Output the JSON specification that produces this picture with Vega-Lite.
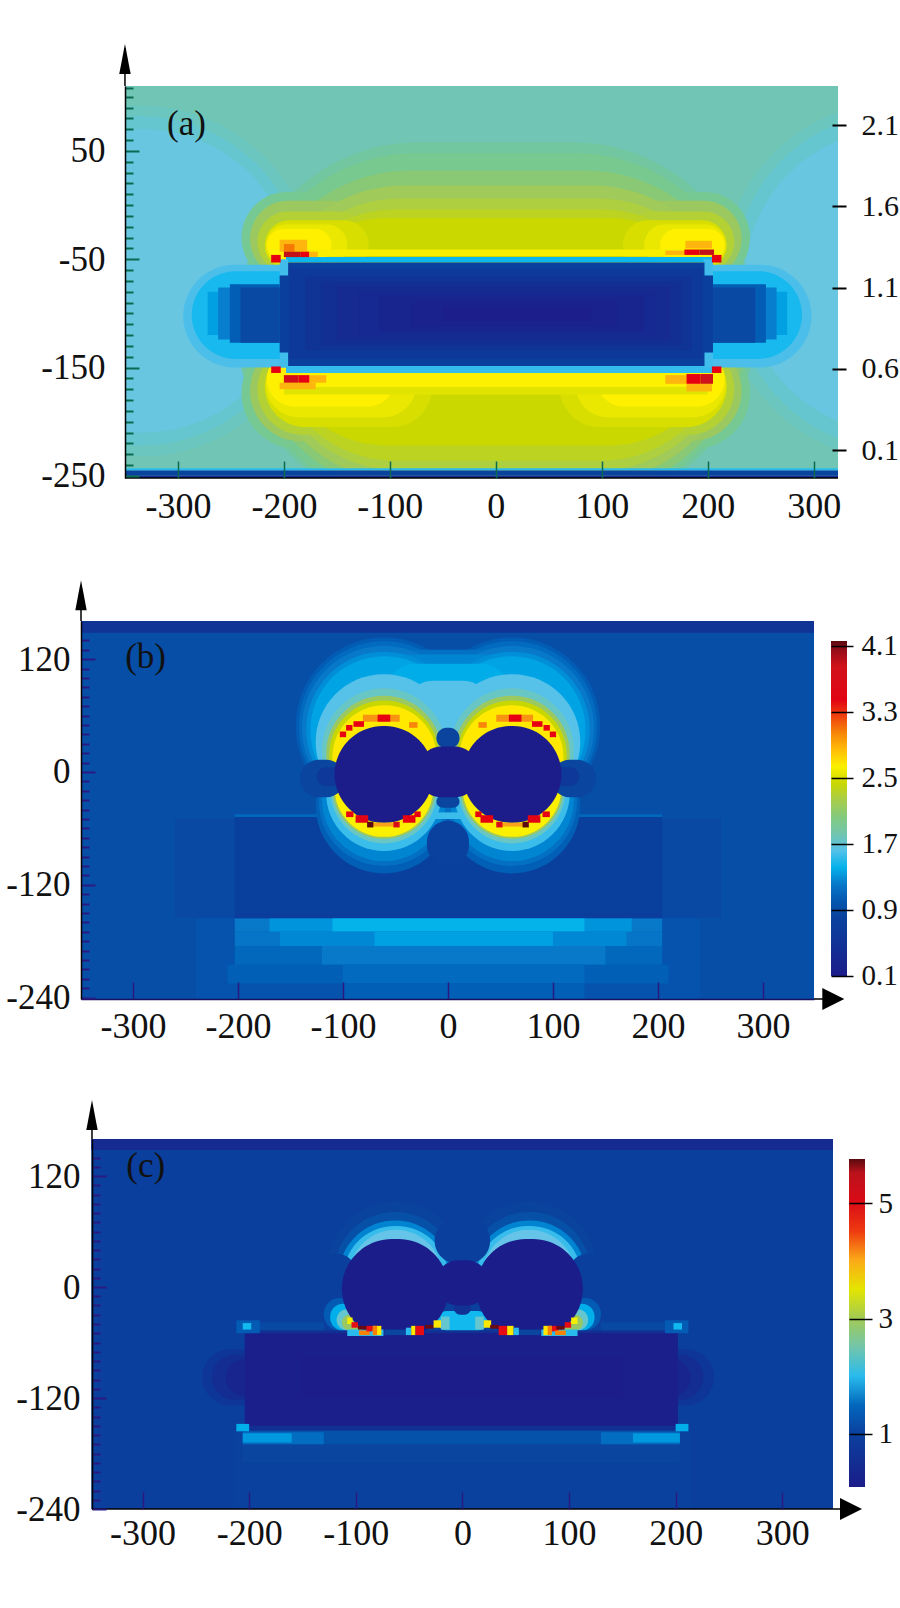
{"$schema":"https://vega.github.io/schema/vega-lite/v6.json","description":"Three field-intensity heat maps stacked vertically.","background":"white","padding":{"left":0,"top":43,"right":0,"bottom":0},"spacing":0,"align":"none","bounds":"full","resolve":{"scale":{"color":"independent"},"legend":{"color":"independent"}},"config":{"view":{"stroke":null},"axis":{"labelFont":"Liberation Serif","labelColor":"#111111","grid":false,"title":null,"labelOverlap":false,"labelFlush":false}},
"datasets":{
"a1":[{"x":-350,"X":323,"y":-252,"Y":110,"v":1.02}],
"a2":[
{"x":-505,"X":-170,"y":-232,"Y":92,"v":1.012},{"x":-497,"X":-180,"y":-222,"Y":82,"v":1.0},{"x":-490,"X":-190,"y":-210,"Y":70,"v":0.985},{"x":215,"X":540,"y":-235,"Y":95,"v":1.012},{"x":225,"X":530,"y":-225,"Y":85,"v":1.0},{"x":235,"X":520,"y":-210,"Y":70,"v":0.985},
{"x":-245,"X":245,"y":-280,"Y":58,"v":1.07},{"x":-240,"X":-120,"y":-72,"Y":12,"v":1.1},{"x":120,"X":240,"y":-72,"Y":12,"v":1.1},{"x":-240,"X":-40,"y":-225,"Y":-122,"v":1.1},{"x":40,"X":240,"y":-225,"Y":-122,"v":1.1},{"x":-240,"X":240,"y":-275,"Y":48,"v":1.11},{"x":-232,"X":236,"y":-265,"Y":32,"v":1.16},{"x":-232,"X":-120,"y":-66,"Y":4,"v":1.2},{"x":120,"X":232,"y":-66,"Y":4,"v":1.2},{"x":-232,"X":-50,"y":-218,"Y":-125,"v":1.2},{"x":50,"X":232,"y":-218,"Y":-125,"v":1.2},{"x":-225,"X":230,"y":-255,"Y":18,"v":1.22},{"x":-218,"X":224,"y":-245,"Y":6,"v":1.28},{"x":-225,"X":-120,"y":-62,"Y":-6,"v":1.3},{"x":120,"X":225,"y":-62,"Y":-6,"v":1.3},{"x":-225,"X":-55,"y":-212,"Y":-128,"v":1.3},{"x":55,"X":225,"y":-212,"Y":-128,"v":1.3},{"x":-213,"X":218,"y":-236,"Y":-4,"v":1.33},{"x":-210,"X":214,"y":-222,"Y":-12,"v":1.37},
{"x":-218,"X":-120,"y":-60,"Y":-14,"v":1.4},{"x":-217,"X":-140,"y":-56,"Y":-18,"v":1.44},{"x":-216,"X":-155,"y":-52,"Y":-22,"v":1.49},{"x":120,"X":218,"y":-60,"Y":-14,"v":1.4},{"x":140,"X":217,"y":-56,"Y":-18,"v":1.44},{"x":155,"X":216,"y":-52,"Y":-22,"v":1.49},
{"x":-218,"X":-60,"y":-205,"Y":-130,"v":1.4},{"x":-217,"X":-75,"y":-196,"Y":-135,"v":1.44},{"x":-216,"X":-95,"y":-186,"Y":-135,"v":1.49},{"x":60,"X":218,"y":-205,"Y":-130,"v":1.4},{"x":75,"X":217,"y":-196,"Y":-135,"v":1.44},{"x":95,"X":216,"y":-186,"Y":-135,"v":1.49},
{"x":-295,"X":-120,"y":-150,"Y":-55,"v":0.9},{"x":-287,"X":-130,"y":-142,"Y":-61,"v":0.83},{"x":120,"X":298,"y":-150,"Y":-55,"v":0.9},{"x":130,"X":289,"y":-142,"Y":-61,"v":0.83}],
"a3":[
{"x":-190,"X":190,"y":-47,"Y":-41,"v":1.47},{"x":-200,"X":200,"y":-175,"Y":-168,"v":1.42},{"x":-200,"X":200,"y":-168,"Y":-155,"v":1.48},
{"x":-272,"X":-204,"y":-120,"Y":-80,"v":0.78},{"x":-262,"X":-204,"y":-124,"Y":-76,"v":0.72},{"x":-251,"X":-204,"y":-127,"Y":-73,"v":0.62},{"x":-241,"X":-204,"y":-127,"Y":-76,"v":0.55},
{"x":205,"X":275,"y":-120,"Y":-80,"v":0.78},{"x":205,"X":265,"y":-124,"Y":-76,"v":0.72},{"x":205,"X":255,"y":-127,"Y":-73,"v":0.62},{"x":205,"X":245,"y":-127,"Y":-76,"v":0.55},
{"x":-198,"X":204,"y":-53,"Y":-48,"v":0.82},{"x":-198,"X":204,"y":-155,"Y":-148,"v":0.86},
{"x":-204,"X":-196,"y":-65,"Y":-50,"v":0.88},{"x":-204,"X":-196,"y":-150,"Y":-136,"v":0.88},{"x":196,"X":205,"y":-65,"Y":-50,"v":0.88},{"x":196,"X":205,"y":-150,"Y":-136,"v":0.88},
{"x":-196,"X":197,"y":-148.5,"Y":-53,"v":0.46},{"x":-204,"X":205,"y":-136,"Y":-65,"v":0.46},{"x":-195,"X":195,"y":-142,"Y":-58,"v":0.39},{"x":-180,"X":185,"y":-134,"Y":-66,"v":0.32},{"x":-165,"X":175,"y":-130,"Y":-70,"v":0.28},{"x":-150,"X":165,"y":-125,"Y":-75,"v":0.24},{"x":-130,"X":150,"y":-120,"Y":-80,"v":0.21},{"x":-110,"X":140,"y":-116,"Y":-84,"v":0.18},{"x":-80,"X":115,"y":-112,"Y":-89,"v":0.15},{"x":-50,"X":90,"y":-107,"Y":-94,"v":0.12},
{"x":-204,"X":-178,"y":-43,"Y":-32,"v":1.6},{"x":-200,"X":-190,"y":-43,"Y":-36,"v":1.72},{"x":-184,"X":-176,"y":-48,"Y":-43,"v":1.86},{"x":-176,"X":-168,"y":-48,"Y":-43,"v":1.6},{"x":-200,"X":-184,"y":-48,"Y":-43,"v":2.2},{"x":-212,"X":-203,"y":-53,"Y":-46,"v":1.86},
{"x":-204,"X":-170,"y":-170,"Y":-164,"v":1.6},{"x":-176,"X":-160,"y":-164,"Y":-157,"v":1.6},{"x":-186,"X":-176,"y":-164,"Y":-157,"v":1.86},{"x":-200,"X":-186,"y":-164,"Y":-157,"v":2.1},{"x":-212,"X":-203,"y":-155,"Y":-149,"v":1.86},
{"x":179,"X":204,"y":-40,"Y":-33,"v":1.6},{"x":160,"X":178,"y":-46,"Y":-42,"v":1.6},{"x":178,"X":192,"y":-46,"Y":-41,"v":1.86},{"x":192,"X":206,"y":-46,"Y":-41,"v":2.2},{"x":204,"X":213,"y":-53,"Y":-46,"v":1.86},
{"x":180,"X":204,"y":-172,"Y":-165,"v":1.6},{"x":160,"X":180,"y":-165,"Y":-157,"v":1.6},{"x":180,"X":193,"y":-165,"Y":-156,"v":1.86},{"x":193,"X":205,"y":-165,"Y":-156,"v":2.15},{"x":204,"X":213,"y":-155,"Y":-149,"v":1.86},
{"x":-350,"X":323,"y":-245,"Y":-243,"v":0.85},{"x":-350,"X":323,"y":-250,"Y":-245,"v":0.5},{"x":-350,"X":323,"y":-252,"Y":-250,"v":0.25}],
"b1":[
{"x":-350,"X":349,"y":-242,"Y":161,"v":0.95},{"x":-350,"X":349,"y":148,"Y":161,"v":0.5},{"x":-260,"X":260,"y":-155,"Y":-50,"v":0.92},{"x":-240,"X":240,"y":-242,"Y":-156,"v":0.98},
{"x":-203,"X":204,"y":-48,"Y":-45,"v":1.1},{"x":-203,"X":204,"y":-150,"Y":-48,"v":0.78},{"x":-203,"X":204,"y":-156,"Y":-150,"v":0.72},
{"x":-203,"X":204,"y":-170,"Y":-156,"v":1.2},{"x":-170,"X":175,"y":-170,"Y":-156,"v":1.3},{"x":-110,"X":130,"y":-170,"Y":-156,"v":1.4},
{"x":-203,"X":204,"y":-185,"Y":-170,"v":1.18},{"x":-160,"X":170,"y":-185,"Y":-170,"v":1.26},{"x":-70,"X":100,"y":-185,"Y":-170,"v":1.34},
{"x":-203,"X":204,"y":-205,"Y":-185,"v":1.1},{"x":-120,"X":150,"y":-205,"Y":-185,"v":1.2},
{"x":-210,"X":210,"y":-225,"Y":-205,"v":1.05},{"x":-100,"X":130,"y":-225,"Y":-205,"v":1.12},{"x":-100,"X":130,"y":-242,"Y":-225,"v":1.05}],
"b2":[
{"x":-145,"X":23,"y":-45,"Y":143,"v":1.03},{"x":-23,"X":145,"y":-45,"Y":143,"v":1.03},{"x":-126,"X":4,"y":-108,"Y":37,"v":1.05},{"x":-4,"X":126,"y":-108,"Y":37,"v":1.05},
{"x":-142,"X":20,"y":-43,"Y":139,"v":1.12},{"x":-20,"X":142,"y":-43,"Y":139,"v":1.12},{"x":-80,"X":80,"y":60,"Y":130,"v":1.15},{"x":-123,"X":1,"y":-100,"Y":37,"v":1.15},{"x":-1,"X":123,"y":-100,"Y":37,"v":1.15},
{"x":-139,"X":17,"y":-40,"Y":134,"v":1.2},{"x":-17,"X":139,"y":-40,"Y":134,"v":1.2},{"x":-70,"X":70,"y":60,"Y":125,"v":1.25},{"x":-120,"X":-2,"y":-95,"Y":37,"v":1.25},{"x":2,"X":120,"y":-95,"Y":37,"v":1.25},
{"x":-135,"X":13,"y":-37,"Y":128,"v":1.28},{"x":-13,"X":135,"y":-37,"Y":128,"v":1.28},{"x":-131,"X":10,"y":-34,"Y":123,"v":1.35},{"x":-10,"X":131,"y":-34,"Y":123,"v":1.35},{"x":-60,"X":60,"y":50,"Y":115,"v":1.38},
{"x":-116,"X":-6,"y":-84,"Y":39,"v":1.5},{"x":6,"X":116,"y":-84,"Y":39,"v":1.5},
{"x":-126,"X":4,"y":-40,"Y":104,"v":1.6},{"x":-4,"X":126,"y":-40,"Y":104,"v":1.6},{"x":-40,"X":40,"y":40,"Y":97,"v":1.6},
{"x":-120,"X":-2,"y":-43,"Y":89,"v":1.75},{"x":2,"X":120,"y":-43,"Y":89,"v":1.75},{"x":-112,"X":-10,"y":-76,"Y":39,"v":1.75},{"x":10,"X":112,"y":-76,"Y":39,"v":1.75},
{"x":-116,"X":-6,"y":-43,"Y":81,"v":2.1},{"x":6,"X":116,"y":-43,"Y":81,"v":2.1},{"x":-110,"X":-12,"y":-71,"Y":37,"v":2.1},{"x":12,"X":110,"y":-71,"Y":37,"v":2.1},
{"x":-113,"X":-9,"y":-41,"Y":76,"v":2.4},{"x":9,"X":113,"y":-41,"Y":76,"v":2.4},
{"x":-110,"X":-11,"y":-39,"Y":71,"v":2.65},{"x":11,"X":110,"y":-39,"Y":71,"v":2.65},{"x":-108,"X":-14,"y":-69,"Y":35,"v":2.6},{"x":14,"X":108,"y":-69,"Y":35,"v":2.6},
{"x":-141,"X":-98,"y":-27,"Y":13,"v":0.88},{"x":-125,"X":-100,"y":-15,"Y":5,"v":0.6},{"x":98,"X":141,"y":-27,"Y":13,"v":0.88},{"x":100,"X":125,"y":-15,"Y":5,"v":0.6},
{"x":-20,"X":20,"y":-100,"Y":-52,"v":0.8},{"x":-11,"X":11,"y":25,"Y":47,"v":0.85},{"x":-11,"X":11,"y":-38,"Y":-25,"v":0.9},{"x":-30,"X":30,"y":-27,"Y":27,"v":0.1},
{"x":-108,"X":-14,"y":-54,"Y":49,"v":0.1},{"x":14,"X":108,"y":-54,"Y":49,"v":0.1}],
"b3":[
{"x":-14,"X":14,"y":-50,"Y":-43,"v":1.5},
{"x":-81,"X":-46,"y":53.5,"Y":61,"v":2.95},{"x":-67,"X":-55,"y":53.5,"Y":61,"v":3.3},{"x":-103,"X":-97,"y":37,"Y":43,"v":3.3},{"x":-97,"X":-91,"y":44,"Y":50,"v":3.3},{"x":-90,"X":-80,"y":48,"Y":54,"v":3.3},{"x":-37,"X":-29,"y":47,"Y":53,"v":3.0},
{"x":46,"X":81,"y":53.5,"Y":61,"v":2.95},{"x":58,"X":70,"y":53.5,"Y":61,"v":3.3},{"x":97,"X":103,"y":37,"Y":43,"v":3.3},{"x":91,"X":97,"y":44,"Y":50,"v":3.3},{"x":80,"X":90,"y":48,"Y":54,"v":3.3},{"x":29,"X":37,"y":47,"Y":53,"v":3.0},
{"x":-97,"X":-90,"y":-48,"Y":-42,"v":3.3},{"x":-88,"X":-76,"y":-54,"Y":-46,"v":3.4},{"x":-71,"X":-52,"y":-58,"Y":-54,"v":2.9},{"x":-77,"X":-71,"y":-59,"Y":-53,"v":4.1},{"x":-52,"X":-46,"y":-59,"Y":-53,"v":3.6},{"x":-43,"X":-31,"y":-54,"Y":-46,"v":3.3},{"x":-32,"X":-26,"y":-48,"Y":-42,"v":3.3},
{"x":26,"X":32,"y":-48,"Y":-42,"v":3.3},{"x":31,"X":43,"y":-54,"Y":-46,"v":3.3},{"x":52,"X":71,"y":-58,"Y":-54,"v":2.9},{"x":46,"X":52,"y":-59,"Y":-53,"v":3.6},{"x":71,"X":77,"y":-59,"Y":-53,"v":4.1},{"x":76,"X":88,"y":-54,"Y":-46,"v":3.4},{"x":90,"X":97,"y":-48,"Y":-42,"v":3.3}],
"c1":[
{"x":-348,"X":348,"y":-240,"Y":160,"v":1.0},{"x":-348,"X":348,"y":148,"Y":160,"v":0.45},
{"x":-215,"X":215,"y":-240,"Y":-155,"v":1.08},{"x":-206,"X":204,"y":-190,"Y":-155,"v":1.2},{"x":-206,"X":204,"y":-170,"Y":-155,"v":1.32},
{"x":-206,"X":-130,"y":-170,"Y":-157,"v":1.55},{"x":-206,"X":-160,"y":-168,"Y":-158,"v":1.8},{"x":130,"X":204,"y":-170,"Y":-157,"v":1.55},{"x":160,"X":204,"y":-168,"Y":-158,"v":1.8},
{"x":-204,"X":-130,"y":-47,"Y":-38,"v":1.25},{"x":130,"X":204,"y":-47,"Y":-38,"v":1.25}],
"c2":[
{"x":-127,"X":2,"y":-55,"Y":92,"v":1.12},{"x":-2,"X":127,"y":-55,"Y":92,"v":1.12},{"x":-120,"X":-6,"y":-49,"Y":81,"v":1.3},{"x":6,"X":120,"y":-49,"Y":81,"v":1.3},{"x":-116,"X":-10,"y":-49,"Y":72,"v":1.7},{"x":10,"X":116,"y":-49,"Y":72,"v":1.7},{"x":-112,"X":-13,"y":-46,"Y":66,"v":2.05},{"x":13,"X":112,"y":-46,"Y":66,"v":2.05},{"x":-106,"X":-19,"y":-38,"Y":62,"v":2.3},{"x":19,"X":106,"y":-38,"Y":62,"v":2.3},
{"x":-135,"X":-100,"y":-36,"Y":36,"v":1.0},{"x":100,"X":135,"y":-36,"Y":36,"v":1.0},{"x":-26,"X":26,"y":25,"Y":75,"v":1.0},{"x":-20,"X":20,"y":-60,"Y":-5,"v":1.0},
{"x":-244,"X":236,"y":-128,"Y":-67,"v":0.75},{"x":-235,"X":226,"y":-122,"Y":-73,"v":0.5},{"x":-222,"X":214,"y":-118,"Y":-78,"v":0.3},
{"x":-130,"X":-100,"y":-47,"Y":-12,"v":1.4},{"x":-124,"X":-100,"y":-47,"Y":-18,"v":1.9},{"x":-118,"X":-95,"y":-47,"Y":-24,"v":2.4},{"x":-113,"X":-90,"y":-47,"Y":-30,"v":2.9},
{"x":100,"X":130,"y":-47,"Y":-12,"v":1.4},{"x":100,"X":124,"y":-47,"Y":-18,"v":1.9},{"x":95,"X":118,"y":-47,"Y":-24,"v":2.4},{"x":90,"X":113,"y":-47,"Y":-30,"v":2.9},
{"x":-24,"X":24,"y":-47,"Y":-26,"v":1.95},{"x":-8,"X":8,"y":-30,"Y":-16,"v":0.6},{"x":-25,"X":25,"y":-20,"Y":29,"v":0.12},
{"x":-113,"X":-13,"y":-56,"Y":52,"v":0.12},{"x":13,"X":113,"y":-56,"Y":52,"v":0.12}],
"c3":[
{"x":-204,"X":202,"y":-155,"Y":-47,"v":0.55},{"x":-204,"X":202,"y":-150,"Y":-50,"v":0.15},{"x":-150,"X":150,"y":-120,"Y":-75,"v":0.09},
{"x":-212,"X":-190,"y":-50,"Y":-36,"v":1.4},{"x":-206,"X":-198,"y":-46,"Y":-39,"v":1.95},{"x":190,"X":212,"y":-50,"Y":-36,"v":1.4},{"x":198,"X":206,"y":-46,"Y":-39,"v":1.95},{"x":-212,"X":-200,"y":-156,"Y":-148,"v":1.9},{"x":200,"X":212,"y":-156,"Y":-148,"v":1.9},
{"x":-73,"X":-53,"y":-52,"Y":-46,"v":1.2},{"x":53,"X":73,"y":-52,"Y":-46,"v":1.2},
{"x":-108,"X":-74,"y":-53,"Y":-46,"v":2.0},{"x":-108,"X":-103,"y":-40,"Y":-33,"v":3.6},{"x":-104,"X":-98,"y":-44,"Y":-38,"v":4.6},{"x":-97,"X":-87,"y":-52,"Y":-47,"v":4.2},{"x":-98,"X":-90,"y":-46,"Y":-42,"v":5.7},{"x":-90,"X":-84,"y":-48,"Y":-42,"v":4.6},{"x":-84,"X":-76,"y":-52,"Y":-42,"v":3.7},{"x":-84,"X":-80,"y":-52,"Y":-42,"v":4.2},
{"x":-53,"X":-48,"y":-52,"Y":-44,"v":2.0},{"x":-48,"X":-44,"y":-52,"Y":-42,"v":3.7},{"x":-44,"X":-36,"y":-52,"Y":-42,"v":4.6},{"x":-35,"X":-27,"y":-45,"Y":-41,"v":5.7},{"x":-27,"X":-20,"y":-44,"Y":-36,"v":3.7},{"x":-20,"X":-12,"y":-46,"Y":-32,"v":2.4},
{"x":12,"X":20,"y":-46,"Y":-32,"v":2.4},{"x":20,"X":27,"y":-44,"Y":-36,"v":3.7},{"x":26,"X":34,"y":-45,"Y":-41,"v":5.7},{"x":34,"X":42,"y":-52,"Y":-42,"v":4.6},{"x":42,"X":48,"y":-52,"Y":-42,"v":3.7},{"x":48,"X":53,"y":-52,"Y":-44,"v":2.0},
{"x":74,"X":108,"y":-53,"Y":-46,"v":2.0},{"x":76,"X":84,"y":-52,"Y":-42,"v":3.7},{"x":80,"X":84,"y":-52,"Y":-42,"v":4.2},{"x":84,"X":90,"y":-48,"Y":-42,"v":4.6},{"x":87,"X":97,"y":-52,"Y":-47,"v":4.2},{"x":88,"X":96,"y":-46,"Y":-42,"v":5.7},{"x":96,"X":102,"y":-44,"Y":-38,"v":4.6},{"x":102,"X":108,"y":-40,"Y":-33,"v":3.6}]
},
"vconcat":[
{"width":757,"height":392,"layer":[{"resolve":{"axis":{"x":"independent","y":"independent"}},"layer":[
{"layer":[{"data":{"name":"a1"},"mark":{"type":"rect","clip":true}},{"data":{"name":"a2"},"mark":{"type":"rect","cornerRadius":999,"clip":true}},{"data":{"name":"a3"},"mark":{"type":"rect","clip":true}}],
"encoding":{"x":{"field":"x","type":"quantitative","scale":{"domain":[-391.5,323],"nice":false,"zero":false},"axis":{"zindex":1,"values":[-300,-200,-100,0,100,200,300],"labelExpr":"''+datum.value","labelFontSize":36,"labelPadding":28,"tickSize":-17,"tickWidth":1.5,"tickColor":"#0a6a50","domain":false,"minExtent":102,"maxExtent":300}},"x2":{"field":"X"},"y":{"field":"y","type":"quantitative","scale":{"domain":[-252,110],"nice":false,"zero":false},"axis":{"zindex":1,"offset":-44,"values":[-250,-240,-230,-220,-210,-200,-190,-180,-170,-160,-150,-140,-130,-120,-110,-100,-90,-80,-70,-60,-50,-40,-30,-20,-10,0,10,20,30,40,50,60,70,80,90,100,108],"labelExpr":"(datum.value+250)%100==0?''+datum.value:''","labelFontSize":35,"labelPadding":34,"tickSize":{"condition":{"test":"(datum.value+250)%100==0","value":-14},"value":-8},"tickWidth":2,"tickColor":"#0a6a50","domainColor":"#000000","domainWidth":1.5,"minExtent":81,"maxExtent":300}},"y2":{"field":"Y"},"color":{"field":"v","type":"quantitative","legend":null,"scale":{"domain":[0.1,0.54,0.716,0.826,0.98,1.024,1.2,1.354,1.486,1.64,1.816,1.86,2.19,2.3],"range":["#1c1c8a","#0a46a0","#0a7ccc","#12b9ee","#6cc5e6","#74c4b0","#9cc860","#c4d400","#fff200","#f9a11b","#ee3a10","#e60012","#cc141c","#5a0a10"]}}}},
{"data":{"values":[{"x":-391.5,"X":-350,"y":-252,"Y":110}]},"mark":{"type":"rect","color":"white"},"encoding":{"x":{"field":"x","type":"quantitative","axis":null},"x2":{"field":"X"},"y":{"field":"y","type":"quantitative","axis":null},"y2":{"field":"Y"}}},
{"data":{"values":[{"x":-292,"y":75,"t":"(a)"}]},"mark":{"type":"text","font":"Liberation Serif","fontSize":35,"color":"#111111"},"encoding":{"x":{"field":"x","type":"quantitative","axis":null},"y":{"field":"y","type":"quantitative","axis":null},"text":{"field":"t"}}},
{"data":{"values":[{"x":-350,"X":-350,"y":110,"Y":145},{"x":-350,"X":323,"y":-252,"Y":-252}]},"mark":{"type":"rule","color":"#000000","strokeWidth":1.5},"encoding":{"x":{"field":"x","type":"quantitative","axis":null},"x2":{"field":"X"},"y":{"field":"y","type":"quantitative","axis":null},"y2":{"field":"Y"}}},
{"data":{"values":[{"x":-350,"y":135}]},"mark":{"type":"point","shape":"M-0.38,1L0.38,1L0,-1Z","size":900,"filled":true,"opacity":1,"color":"#000000"},"encoding":{"x":{"field":"x","type":"quantitative","axis":null},"y":{"field":"y","type":"quantitative","axis":null}}}
]},
{"data":{"values":[{"t":0.1},{"t":0.6},{"t":1.1},{"t":1.6},{"t":2.1}]},"mark":{"type":"point","opacity":0},"encoding":{"y":{"field":"t","type":"quantitative","scale":{"domain":[-0.072,2.34],"nice":false,"zero":false},"axis":{"zindex":1,"orient":"right","values":[0.1,0.6,1.1,1.6,2.1],"format":".1f","offset":-6,"tickSize":14,"tickWidth":2,"tickColor":"#000000","domain":false,"labelFontSize":30,"labelPadding":15}}}}
],"resolve":{"scale":{"y":"independent"}}},
{"width":733,"height":378,"layer":[{"resolve":{"axis":{"x":"independent","y":"independent"}},"layer":[
{"layer":[{"data":{"name":"b1"},"mark":{"type":"rect","clip":true}},{"data":{"name":"b2"},"mark":{"type":"rect","cornerRadius":999,"clip":true}},{"data":{"name":"b3"},"mark":{"type":"rect","clip":true}}],
"encoding":{"x":{"field":"x","type":"quantitative","scale":{"domain":[-349.5,348.6],"nice":false,"zero":false},"axis":{"zindex":1,"values":[-300,-200,-100,0,100,200,300],"labelExpr":"''+datum.value","labelFontSize":36,"labelPadding":27,"tickSize":-17,"tickWidth":1.5,"tickColor":"#2a1a80","domainColor":"#1a1060","domainWidth":1.5,"minExtent":100,"maxExtent":300}},"x2":{"field":"X"},"y":{"field":"y","type":"quantitative","scale":{"domain":[-241.5,160.6],"nice":false,"zero":false},"axis":{"zindex":1,"values":[-240,-230,-220,-210,-200,-190,-180,-170,-160,-150,-140,-130,-120,-110,-100,-90,-80,-70,-60,-50,-40,-30,-20,-10,0,10,20,30,40,50,60,70,80,90,100,110,120,130,140],"labelExpr":"datum.value%120==0?''+datum.value:''","labelFontSize":35,"labelPadding":25,"tickSize":{"condition":{"test":"datum.value%120==0","value":-14},"value":-8},"tickWidth":2,"tickColor":"#2a1a80","domainColor":"#000000","domainWidth":1.5,"minExtent":81,"maxExtent":300}},"y2":{"field":"Y"},"color":{"field":"v","type":"quantitative","legend":{"orient":"none","legendX":750,"legendY":20,"title":null,"gradientLength":335,"gradientThickness":16,"labelOpacity":0,"labelFontSize":1},"scale":{"domain":[0.1,0.9,1.22,1.42,1.7,1.78,2.1,2.38,2.62,2.9,3.22,3.3,3.9,4.1],"range":["#1c1c8a","#0a46a0","#0a7ccc","#12b9ee","#6cc5e6","#74c4b0","#9cc860","#c4d400","#fff200","#f9a11b","#ee3a10","#e60012","#cc141c","#5a0a10"]}}}},
{"data":{"values":[{"x":-288,"y":122,"t":"(b)"}]},"mark":{"type":"text","font":"Liberation Serif","fontSize":35,"color":"#111111"},"encoding":{"x":{"field":"x","type":"quantitative","axis":null},"y":{"field":"y","type":"quantitative","axis":null},"text":{"field":"t"}}},
{"data":{"values":[{"x":-349.5,"X":-349.5,"y":160.6,"Y":195},{"x":348.6,"X":360,"y":-241.5,"Y":-241.5}]},"mark":{"type":"rule","color":"#000000","strokeWidth":1.5},"encoding":{"x":{"field":"x","type":"quantitative","axis":null},"x2":{"field":"X"},"y":{"field":"y","type":"quantitative","axis":null},"y2":{"field":"Y"}}},
{"data":{"values":[{"x":-349.5,"y":188}]},"mark":{"type":"point","shape":"M-0.38,1L0.38,1L0,-1Z","size":900,"filled":true,"opacity":1,"color":"#000000"},"encoding":{"x":{"field":"x","type":"quantitative","axis":null},"y":{"field":"y","type":"quantitative","axis":null}}},
{"data":{"values":[{"x":367,"y":-241.5}]},"mark":{"type":"point","shape":"M-1,-1L1,0L-1,1Z","size":484,"filled":true,"opacity":1,"color":"#000000"},"encoding":{"x":{"field":"x","type":"quantitative","axis":null},"y":{"field":"y","type":"quantitative","axis":null}}}
]},
{"data":{"values":[{"t":0.1},{"t":0.9},{"t":1.7},{"t":2.5},{"t":3.3},{"t":4.1}]},"mark":{"type":"point","opacity":0},"encoding":{"y":{"field":"t","type":"quantitative","scale":{"domain":[-0.179,4.4],"nice":false,"zero":false},"axis":{"zindex":1,"orient":"right","values":[0.1,0.9,1.7,2.5,3.3,4.1],"format":".1f","offset":17,"tickSize":22,"tickWidth":1.5,"tickColor":"#000000","domain":false,"labelFontSize":29,"labelPadding":8}}}}
],"resolve":{"scale":{"y":"independent"}}},
{"width":752,"height":370,"layer":[{"resolve":{"axis":{"x":"independent","y":"independent"}},"layer":[
{"layer":[{"data":{"name":"c1"},"mark":{"type":"rect","clip":true}},{"data":{"name":"c2"},"mark":{"type":"rect","cornerRadius":999,"clip":true}},{"data":{"name":"c3"},"mark":{"type":"rect","clip":true}}],
"encoding":{"x":{"field":"x","type":"quantitative","scale":{"domain":[-357.7,347.6],"nice":false,"zero":false},"axis":{"zindex":1,"values":[-300,-200,-100,0,100,200,300],"labelExpr":"''+datum.value","labelFontSize":36,"labelPadding":24,"tickSize":-17,"tickWidth":1.5,"tickColor":"#2a1a80","domain":false,"minExtent":95,"maxExtent":300}},"x2":{"field":"X"},"y":{"field":"y","type":"quantitative","scale":{"domain":[-240,160],"nice":false,"zero":false},"axis":{"zindex":1,"offset":-11,"values":[-240,-230,-220,-210,-200,-190,-180,-170,-160,-150,-140,-130,-120,-110,-100,-90,-80,-70,-60,-50,-40,-30,-20,-10,0,10,20,30,40,50,60,70,80,90,100,110,120,130,140],"labelExpr":"datum.value%120==0?''+datum.value:''","labelFontSize":35,"labelPadding":26,"tickSize":{"condition":{"test":"datum.value%120==0","value":-14},"value":-8},"tickWidth":2,"tickColor":"#2a1a80","domainColor":"#000000","domainWidth":1.5,"minExtent":81,"maxExtent":300}},"y2":{"field":"Y"},"color":{"field":"v","type":"quantitative","legend":{"orient":"none","legendX":768,"legendY":20,"title":null,"gradientLength":328,"gradientThickness":16,"labelOpacity":0,"labelFontSize":1},"scale":{"domain":[0.09,1.22,1.67,1.95,2.35,2.46,2.92,3.31,3.65,4.04,4.5,4.61,5.46,5.74],"range":["#1c1c8a","#0a46a0","#0a7ccc","#12b9ee","#6cc5e6","#74c4b0","#9cc860","#c4d400","#fff200","#f9a11b","#ee3a10","#e60012","#cc141c","#5a0a10"]}}}},
{"data":{"values":[{"x":-297,"y":131,"t":"(c)"}]},"mark":{"type":"text","font":"Liberation Serif","fontSize":35,"color":"#111111"},"encoding":{"x":{"field":"x","type":"quantitative","axis":null},"y":{"field":"y","type":"quantitative","axis":null},"text":{"field":"t"}}},
{"data":{"values":[{"x":-347.4,"X":-347.4,"y":160,"Y":195},{"x":-347.4,"X":358,"y":-240,"Y":-240}]},"mark":{"type":"rule","color":"#000000","strokeWidth":1.5},"encoding":{"x":{"field":"x","type":"quantitative","axis":null},"x2":{"field":"X"},"y":{"field":"y","type":"quantitative","axis":null},"y2":{"field":"Y"}}},
{"data":{"values":[{"x":-347.4,"y":186}]},"mark":{"type":"point","shape":"M-0.38,1L0.38,1L0,-1Z","size":900,"filled":true,"opacity":1,"color":"#000000"},"encoding":{"x":{"field":"x","type":"quantitative","axis":null},"y":{"field":"y","type":"quantitative","axis":null}}},
{"data":{"values":[{"x":364.5,"y":-240}]},"mark":{"type":"point","shape":"M-1,-1L1,0L-1,1Z","size":484,"filled":true,"opacity":1,"color":"#000000"},"encoding":{"x":{"field":"x","type":"quantitative","axis":null},"y":{"field":"y","type":"quantitative","axis":null}}}
]},
{"data":{"values":[{"t":1},{"t":3},{"t":5}]},"mark":{"type":"point","opacity":0},"encoding":{"y":{"field":"t","type":"quantitative","scale":{"domain":[-0.3,6.11],"nice":false,"zero":false},"axis":{"zindex":1,"orient":"right","values":[1,3,5],"format":"d","offset":16,"tickSize":23,"tickWidth":1.5,"tickColor":"#000000","domain":false,"labelFontSize":29,"labelPadding":6}}}}
],"resolve":{"scale":{"y":"independent"}}}
]}
